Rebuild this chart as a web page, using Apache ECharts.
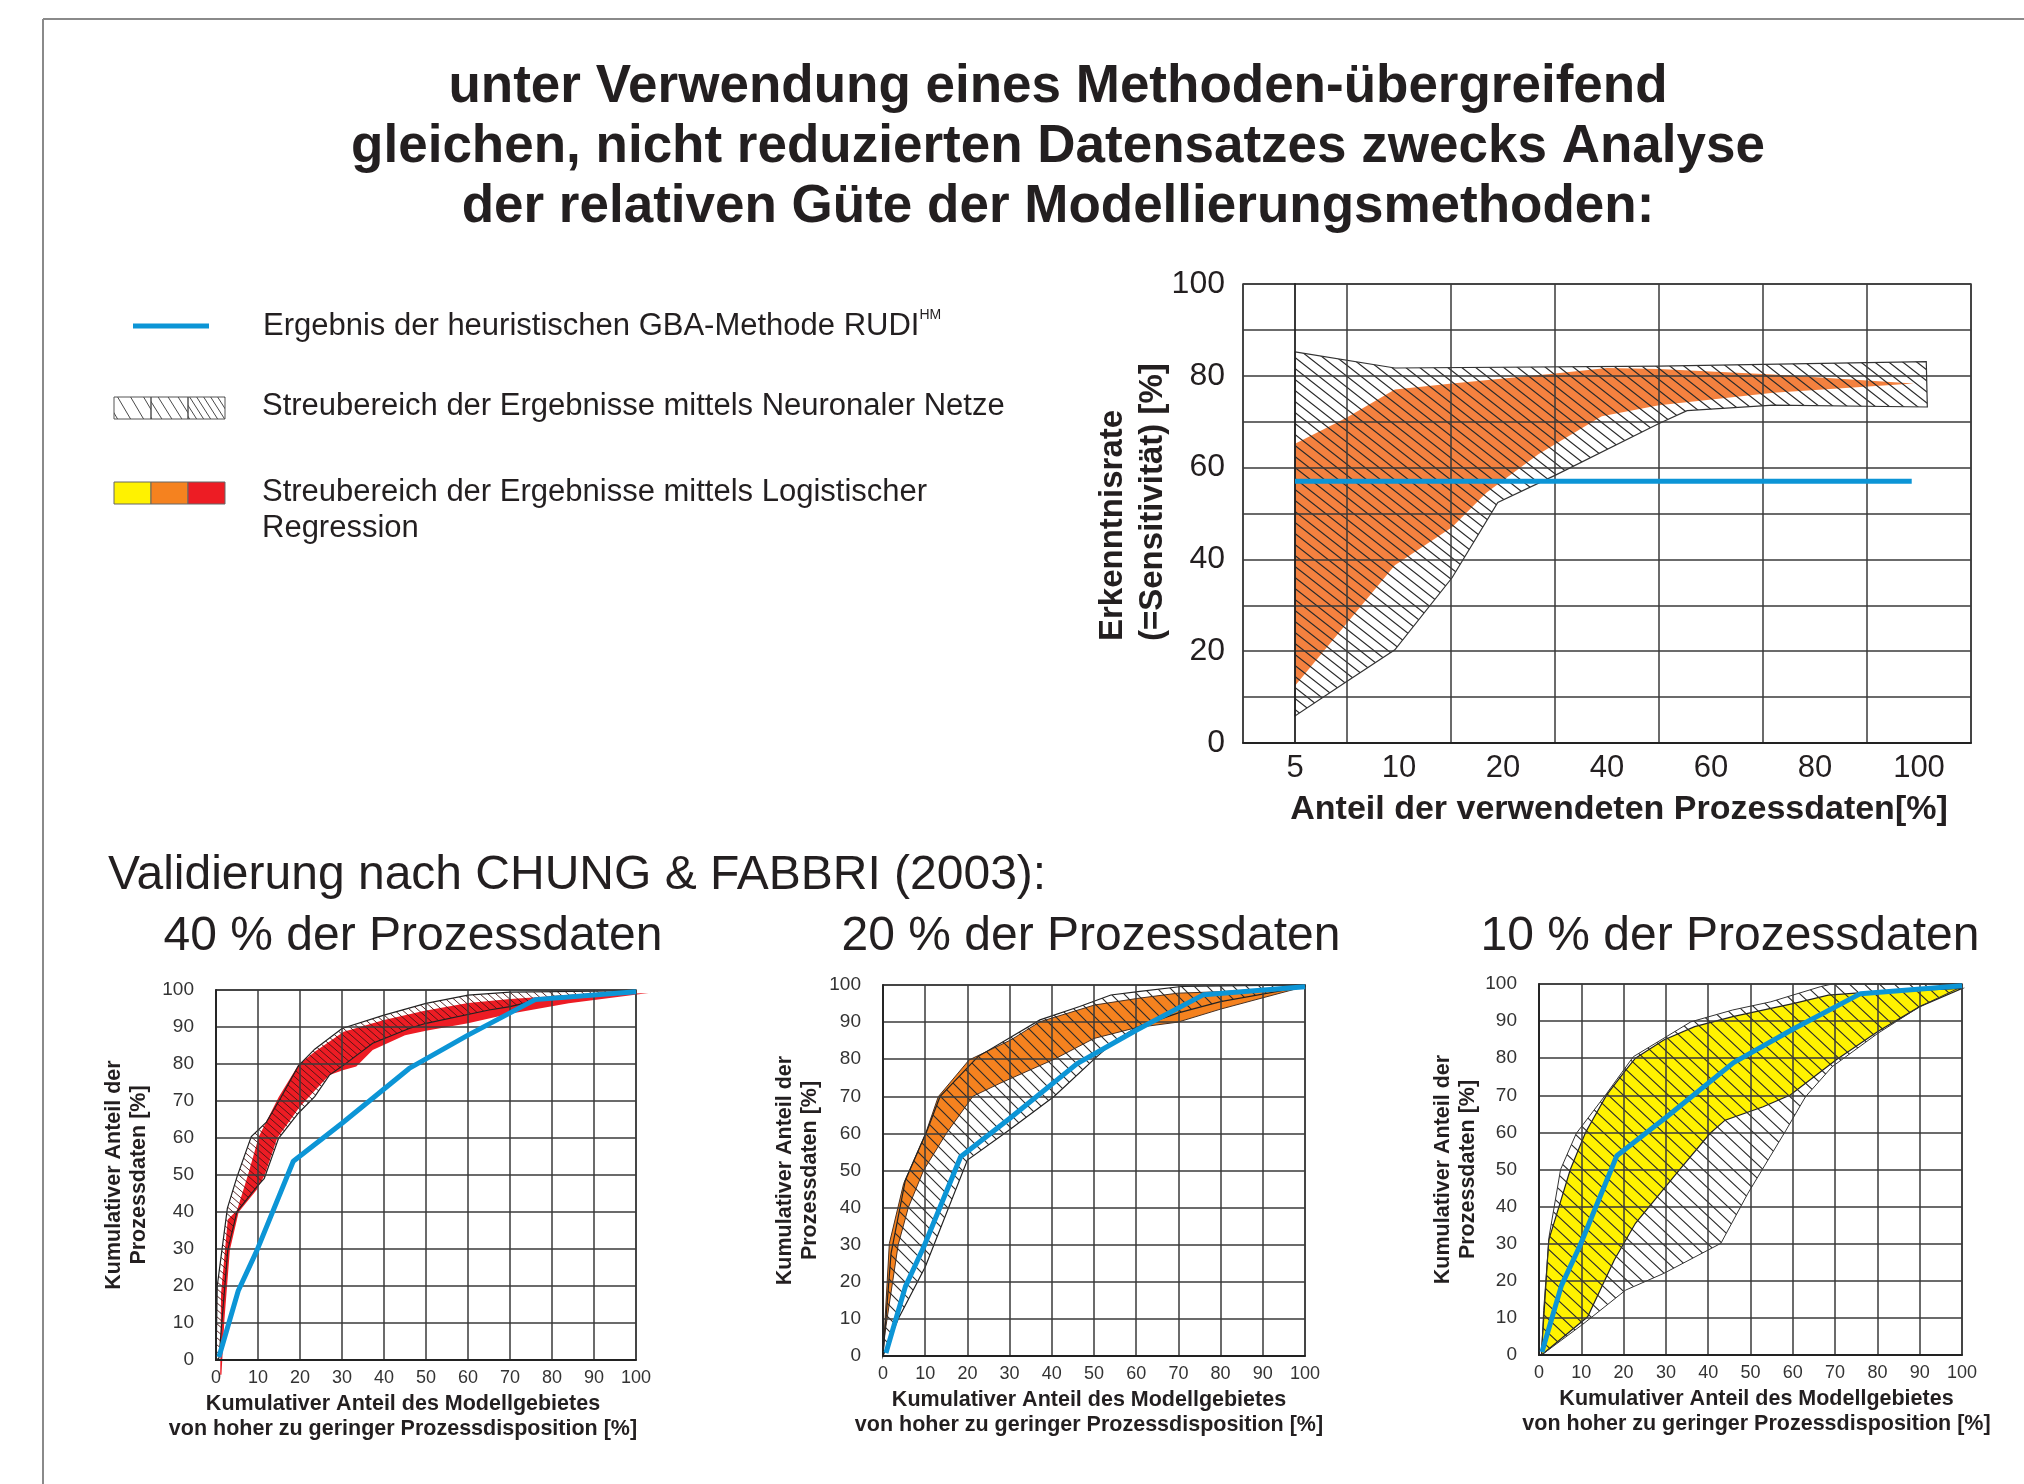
<!DOCTYPE html>
<html><head><meta charset="utf-8">
<script src="https://cdn.jsdelivr.net/npm/echarts@6/dist/echarts.min.js"></script>
<style>html,body{margin:0;padding:0;background:#fff}#c{width:2024px;height:1484px}</style>
</head><body><div id="c"></div><script>
// ---------------- DATA ----------------
const mainTitle = 'unter Verwendung eines Methoden-übergreifend\ngleichen, nicht reduzierten Datensatzes zwecks Analyse\nder relativen Güte der Modellierungsmethoden:';
const validTitle = 'Validierung nach CHUNG & FABBRI (2003):';
const subTitles = ['40 % der Prozessdaten', '20 % der Prozessdaten', '10 % der Prozessdaten'];

// top chart: categories (share of process data used)
const topCats = ['5', '10', '20', '40', '60', '80', '100'];
// x given in category-index units (5 -> 0, 10 -> 1, ...)
const topNNUpper = [[0, 85.2], [0.96, 81.7], [3.5, 82.1], [6.07, 83.1]];
const topNNLower = [[6.08, 73.2], [4.6, 73.6], [3.77, 72.4], [3.5, 69.6], [2.5, 58.3], [1.95, 52.4], [1.51, 36], [0.96, 20.3], [0.49, 13.3], [0, 5.9]];
const topLRUpper = [[0, 65.2], [0.49, 70.8], [0.96, 77], [1.51, 78.3], [2.5, 80.5], [3.0, 81.7], [3.5, 81.5], [4.6, 80.3], [5.95, 78.3]];
const topLRLower = [[5.95, 78.3], [4.6, 76.3], [3.5, 73.6], [2.95, 71.2], [2.34, 62.9], [1.84, 54.5], [1.51, 47], [0.96, 38.7], [0, 12.5]];
const topRudi = [[0, 57], [5.93, 57]];

// bottom charts: cumulative share of model area (x) vs cumulative share of process data (y)
const rudiCurve = [[0.7, 0.8], [5.3, 18.7], [9.7, 29.5], [18.4, 53.7], [30, 64], [46, 78.8], [60, 87.8], [76, 97.4], [100, 99.5]];

const lr40Upper = [[1, -4], [1.2, 18], [2.8, 38], [5, 40.5], [7.6, 50], [10.2, 60.4], [14.9, 71], [19.6, 79.7], [23.5, 83.3], [30.4, 88.7], [40, 91.9], [49.4, 94.3], [60, 96.5], [70, 97.6], [80, 98.3], [103, 99.2]];
const lr40Lower = [[103, 99.2], [84, 96.4], [70, 93.6], [60, 91], [50, 89], [45, 87.8], [37.3, 83.8], [33.4, 79.3], [30.4, 78.4], [27, 77], [20, 68.5], [14.6, 60], [11.6, 50], [9.7, 46], [5.4, 40], [3.3, 29.7], [2, 10.8], [1.3, -4]];
const nn40Upper = [[0, 0], [0.3, 20], [2.7, 41], [5, 49.5], [8.4, 60.4], [12, 64.3], [15.5, 71], [19.6, 79.5], [23.5, 84], [30, 89.6], [40, 93.2], [50, 96.4], [60, 98.6], [70, 99.4], [100, 99.8]];
const nn40Lower = [[100, 99.8], [80, 98.2], [70, 95.5], [65, 94.6], [50, 91], [46, 89.6], [37.3, 85.6], [30.4, 79.7], [27, 77], [23.5, 71.2], [19.6, 66.7], [14.9, 59.9], [11.5, 49.1], [9.7, 46.8], [5, 40.1], [2.8, 29.7], [0.7, 0.5]];

const lr20Upper = [[0, 0], [1.5, 30.3], [4.9, 46.5], [10.1, 60], [13.1, 69.9], [20.4, 79.8], [30.3, 85.2], [37.2, 90.1], [50.1, 94.6], [60.4, 96.4], [69.9, 97.8], [80.2, 98.2], [100, 99.6]];
const lr20Lower = [[100, 99.6], [80, 93.5], [69.9, 90], [60, 88.5], [50, 85.6], [40.6, 80], [27.7, 73.5], [21.3, 70], [15, 60], [9.6, 50], [6, 40], [3.6, 30], [0.3, 5]];
const nn20Upper = [[0, 0], [1.9, 27.6], [5.3, 47.4], [10.5, 60.9], [13.5, 69.9], [22.5, 80.7], [37.2, 90.6], [46.6, 94.2], [54, 97.3], [60.4, 98.2], [70.7, 99.6], [100, 100]];
const nn20Lower = [[100, 99.6], [80, 95.5], [70, 92.5], [60, 88.5], [55, 85], [50.5, 80.5], [40.6, 70], [30, 61], [20, 52.8], [10, 24], [3.6, 10], [0, 0]];

const lr10Upper = [[0.6, 0.9], [2.3, 31], [5, 41], [7.4, 50], [11, 60], [16, 70.1], [20.5, 76.8], [22.8, 80], [29.5, 84.9], [36.8, 88.5], [45.8, 91.2], [60.3, 94.8], [68.4, 97], [76.5, 97.7], [100, 98.8]];
const lr10Lower = [[100, 98.8], [90, 93.9], [80.1, 87.2], [70.2, 79.5], [59.4, 70.1], [53, 66.9], [44, 63.3], [40.4, 59.7], [33.2, 49.9], [22.8, 35.5], [17.8, 25.6], [11.5, 10.3], [0.6, 0]];
const nn10Upper = [[0.6, 0], [1.1, 12], [2.4, 32], [5.1, 50], [8.8, 59.7], [16, 70.5], [22.3, 80.4], [35.9, 89.8], [45.8, 93], [54.8, 95.2], [66.6, 99.3], [69.3, 100], [100, 100]];
const nn10Lower = [[100, 99.3], [90, 93.9], [80.1, 86.7], [69.3, 77.7], [63, 69.6], [58.4, 60.6], [49.4, 43.6], [43, 30.1], [29.5, 22], [20.5, 17.5], [10.6, 8.5], [0.6, 0]];

// ---------------- STYLE ----------------
const FONT = 'Liberation Sans';
const TXT = '#231f20';
const BLUE = '#0c95d6';
const ORANGE_TOP = '#f4813f';
const ORANGE = '#f5821f';
const RED = '#ed1c24';
const YELLOW = '#fff200';
const GRIDC = '#3a3a3a';

function hatch(w, h, color, lw) {
  const c = document.createElement('canvas');
  c.width = w; c.height = h;
  const g = c.getContext('2d');
  g.strokeStyle = color; g.lineWidth = lw;
  g.beginPath();
  g.moveTo(-w, -h); g.lineTo(2 * w, 2 * h);
  g.moveTo(-w, 0); g.lineTo(w, 2 * h);
  g.moveTo(0, -h); g.lineTo(2 * w, h);
  g.stroke();
  return { image: c, repeat: 'repeat' };
}

function band(upper, lower, xi, yi, style, z) {
  const pts = upper.concat(lower);
  return {
    type: 'custom', xAxisIndex: xi, yAxisIndex: yi, z: z, silent: true, clip: false,
    animation: false,
    data: pts,
    renderItem: function (params, api) {
      if (params.dataIndex !== 0) return null;
      const points = pts.map(p => api.coord(p));
      return { type: 'polygon', shape: { points: points }, style: Object.assign({}, style) };
    }
  };
}
function rudiLine(data, xi, yi) {
  return { type: 'line', xAxisIndex: xi, yAxisIndex: yi, data: data, symbol: 'none', z: 8,
    lineStyle: { color: BLUE, width: 5 }, animation: false, silent: true };
}

const chart = echarts.init(document.getElementById('c'), null, { renderer: 'canvas' });

const grids = [
  { left: 1243, top: 284, width: 728, height: 459 },
  { left: 216, top: 990, width: 420, height: 370 },
  { left: 883, top: 985, width: 422, height: 371 },
  { left: 1539, top: 984, width: 423, height: 371 }
].map(g => Object.assign(g, { show: true, borderColor: GRIDC, borderWidth: 1.5, backgroundColor: 'transparent', containLabel: false, outerBoundsMode: 'none' }));

const splitL = { show: true, lineStyle: { color: GRIDC, width: 1.5 } };
const axL = { show: true, lineStyle: { color: '#222', width: 1.8 } };

const botName = 'Kumulativer Anteil des Modellgebietes\nvon hoher zu geringer Prozessdisposition [%]';
const botYName = 'Kumulativer Anteil der\nProzessdaten [%]';

function botX(gi, pad) {
  return { type: 'value', gridIndex: gi, min: 0, max: 100, interval: 10, z: 4,
    axisLine: axL, axisTick: { show: false }, splitLine: splitL,
    axisLabel: { fontSize: 18, color: '#333', margin: 9, fontFamily: FONT },
    name: botName, nameLocation: 'middle', nameGap: 32,
    nameTextStyle: { fontSize: 21.5, fontWeight: 'bold', color: TXT, lineHeight: 25, fontFamily: FONT, padding: pad } };
}
function botY(gi, gap) {
  return { type: 'value', gridIndex: gi, min: 0, max: 100, interval: 10, z: 4,
    axisLine: axL, axisTick: { show: false }, splitLine: splitL,
    axisLabel: { fontSize: 19, color: '#333', margin: 22, fontFamily: FONT },
    name: botYName, nameLocation: 'middle', nameGap: gap,
    nameTextStyle: { fontSize: 21.5, fontWeight: 'bold', color: TXT, lineHeight: 25, fontFamily: FONT } };
}

const P_TOP = hatch(14, 11, '#2a2a2a', 1.2);
const P_L = hatch(8, 7, '#4a1414', 0.9);
const P_M = hatch(13, 13, '#2a2a2a', 1.1);
const P_R = hatch(15, 14, '#2a2a2a', 1.1);

const subStyle = { fontSize: 48, fontWeight: 'normal', lineHeight: 54, color: TXT, fontFamily: FONT };

const option = {
  backgroundColor: '#fff',
  animation: false,
  textStyle: { fontFamily: FONT },
  title: [
    { text: mainTitle, left: 1053, top: 52, textAlign: 'center',
      textStyle: { fontSize: 53, fontWeight: 'bold', lineHeight: 60, color: TXT, fontFamily: FONT } },
    { text: validTitle, left: 103, top: 844, textStyle: subStyle },
    { text: subTitles[0], left: 408, top: 905, textAlign: 'center', textStyle: subStyle },
    { text: subTitles[1], left: 1086, top: 905, textAlign: 'center', textStyle: subStyle },
    { text: subTitles[2], left: 1725, top: 905, textAlign: 'center', textStyle: subStyle }
  ],
  grid: grids,
  xAxis: [
    { type: 'category', gridIndex: 0, data: topCats, boundaryGap: true, z: 4,
      axisLine: axL, axisTick: { show: false }, splitLine: splitL,
      axisLabel: { fontSize: 31, color: TXT, margin: 10, fontFamily: FONT, interval: 0 },
      name: 'Anteil der verwendeten Prozessdaten[%]', nameLocation: 'middle', nameGap: 50,
      nameTextStyle: { fontSize: 34, fontWeight: 'bold', color: TXT, fontFamily: FONT, padding: [0, 0, 0, 24] } },
    { type: 'value', gridIndex: 0, min: -0.5, max: 6.5, show: false },
    botX(1, [0, 46, 0, 0]), botX(2, [0, 10, 0, 0]), botX(3, [0, 0, 0, 12])
  ],
  yAxis: [
    { type: 'value', gridIndex: 0, min: 0, max: 100, interval: 10, z: 4,
      axisLine: axL, axisTick: { show: false }, splitLine: splitL,
      axisLabel: { fontSize: 32, color: TXT, margin: 18, fontFamily: FONT,
        formatter: v => (v % 20 === 0 ? String(v) : '') } },
    botY(1, 64), botY(2, 60), botY(3, 58)
  ],
  series: [
    band(topLRUpper, topLRLower, 1, 0, { fill: ORANGE_TOP }, 2),
    band(topNNUpper, topNNLower, 1, 0, { fill: P_TOP, stroke: '#333', lineWidth: 1.2 }, 3),
    rudiLine(topRudi, 1, 0),

    band(lr40Upper, lr40Lower, 2, 1, { fill: RED }, 2),
    band(nn40Upper, nn40Lower, 2, 1, { fill: P_L, stroke: '#222', lineWidth: 1.2 }, 3),
    rudiLine(rudiCurve, 2, 1),

    band(lr20Upper, lr20Lower, 3, 2, { fill: ORANGE, stroke: '#4a3020', lineWidth: 1 }, 2),
    band(nn20Upper, nn20Lower, 3, 2, { fill: P_M, stroke: '#222', lineWidth: 1.2 }, 3),
    rudiLine(rudiCurve, 3, 2),

    band(lr10Upper, lr10Lower, 4, 3, { fill: YELLOW, stroke: '#222', lineWidth: 1.2 }, 2),
    band(nn10Upper, nn10Lower, 4, 3, { fill: P_R, stroke: '#333', lineWidth: 1 }, 3),
    rudiLine(rudiCurve, 4, 3)
  ],
  graphic: [
    // frame
    { type: 'line', shape: { x1: 43, y1: 19, x2: 2024, y2: 19 }, style: { stroke: '#8a8a8a', lineWidth: 2 } },
    { type: 'line', shape: { x1: 43, y1: 19, x2: 43, y2: 1484 }, style: { stroke: '#8a8a8a', lineWidth: 2 } },
    // top-chart y axis name
    { type: 'text', x: 1133, y: 641, rotation: Math.PI / 2,
      style: { text: 'Erkenntnisrate\n(=Sensitivität) [%]', align: 'left', verticalAlign: 'middle',
        fontSize: 33, fontWeight: 'bold', fontFamily: FONT, fill: TXT, lineHeight: 40 } },
    // legend
    { type: 'line', shape: { x1: 133, y1: 326, x2: 209, y2: 326 }, style: { stroke: BLUE, lineWidth: 5 } },
    { type: 'text', x: 263, y: 326,
      style: { text: '{a|Ergebnis der heuristischen GBA-Methode RUDI}{s|HM}', verticalAlign: 'middle', align: 'left',
        rich: { a: { fontSize: 31, fill: TXT, fontFamily: FONT, lineHeight: 36 },
                s: { fontSize: 14, fill: TXT, fontFamily: FONT, lineHeight: 36, verticalAlign: 'top' } } } },
    { type: 'rect', shape: { x: 114, y: 397, width: 37, height: 22 }, style: { fill: hatch(13, 22, '#333', 0.9), stroke: '#555', lineWidth: 1 } },
    { type: 'rect', shape: { x: 151, y: 397, width: 37, height: 22 }, style: { fill: hatch(10, 16, '#333', 0.9), stroke: '#555', lineWidth: 1 } },
    { type: 'rect', shape: { x: 188, y: 397, width: 37, height: 22 }, style: { fill: hatch(7, 11, '#333', 0.9), stroke: '#555', lineWidth: 1 } },
    { type: 'text', x: 262, y: 406,
      style: { text: 'Streubereich der Ergebnisse mittels Neuronaler Netze', verticalAlign: 'middle', align: 'left',
        fontSize: 31, fontFamily: FONT, fill: TXT } },
    { type: 'rect', shape: { x: 114, y: 482, width: 37, height: 22 }, style: { fill: YELLOW, stroke: '#666', lineWidth: 1 } },
    { type: 'rect', shape: { x: 151, y: 482, width: 37, height: 22 }, style: { fill: ORANGE, stroke: '#666', lineWidth: 1 } },
    { type: 'rect', shape: { x: 188, y: 482, width: 37, height: 22 }, style: { fill: RED, stroke: '#666', lineWidth: 1 } },
    { type: 'text', x: 262, y: 474,
      style: { text: 'Streubereich der Ergebnisse mittels Logistischer\nRegression', verticalAlign: 'top', align: 'left',
        fontSize: 31, fontFamily: FONT, fill: TXT, lineHeight: 36 } }
  ]
};
chart.setOption(option);
</script></body></html>
